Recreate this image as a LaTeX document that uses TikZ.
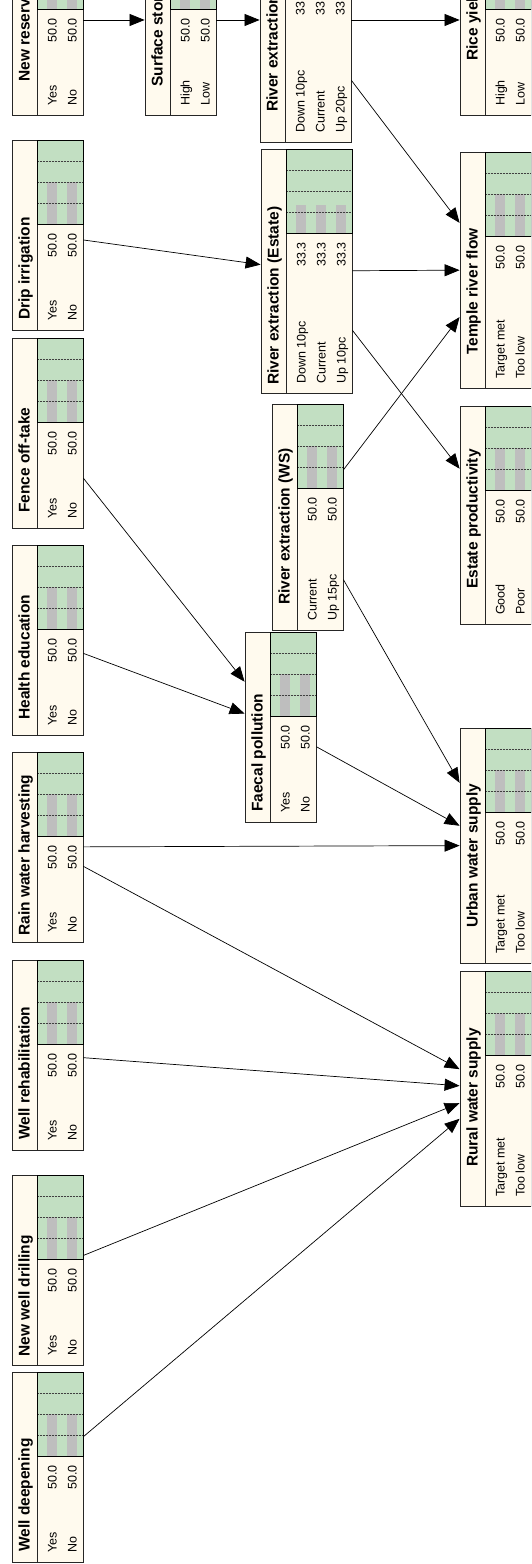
\documentclass[tikz,border=0pt]{standalone}
\usepackage{fontspec}
\setmainfont{Liberation Sans}
\usetikzlibrary{arrows.meta}

\definecolor{bgcream}{RGB}{255,250,238}
\definecolor{chartgreen}{RGB}{194,223,194}
\definecolor{bargray}{RGB}{190,190,190}

% belief node: [title indent], name, left, top, length, states, title, state/value list
\newcommand{\bnnode}[8][10]{%
  \pgfmathsetmacro{\bnh}{31+20*#6}%
  \pgfmathsetmacro{\bnr}{#3+#5}%
  \pgfmathsetmacro{\bnc}{#3+#5-84}%
  \node[bnbox, minimum width=#5pt, minimum height=\bnh pt] (#2) at ({#3+#5/2},{-#4-\bnh/2}) {};
  \draw[bnline] (#3,-#4-25) -- (\bnr,-#4-25);
  \node[bntitle] at (#3+#1,-#4-17.5) {#7};
  \fill[chartgreen] (\bnc,-#4-25) rectangle (\bnr,{-#4-\bnh});
  \foreach [count=\i] \st/\pc in {#8} {
    \fill[bargray] (\bnc,{-#4-15-20*\i}) rectangle ({\bnc+0.84*\pc},{-#4-25-20*\i});
    \node[bnstate] at (#3+9,{-#4-24.5-20*\i}) {\st};
    \node[bnvalue] at (\bnc-9,{-#4-24.5-20*\i}) {\pc};
  }
  \foreach \g in {21,42,63}
    \draw[bngrid] (\bnc+\g,-#4-26) -- (\bnc+\g,{-#4-\bnh+1});
  \draw[bnchart] (\bnc,-#4-25) rectangle (\bnr,{-#4-\bnh});
}

\begin{document}
\begin{tikzpicture}[
    x=1pt, y=1pt, rotate=90, transform shape,
    bnbox/.style={rectangle, draw=black!85, fill=bgcream, line width=0.8pt, inner sep=0pt},
    bnline/.style={draw=black!85, line width=0.8pt},
    bntitle/.style={anchor=base west, inner sep=0pt, font=\bfseries\fontsize{15.5}{15.5}\selectfont},
    bnstate/.style={anchor=base west, inner sep=0pt, font=\fontsize{12.5}{12.5}\selectfont},
    bnvalue/.style={anchor=base east, inner sep=0pt, font=\fontsize{12.5}{12.5}\selectfont},
    bnchart/.style={draw=black, line width=0.9pt},
    bngrid/.style={densely dotted, line width=0.5pt, black!75},
    link/.style={-{Triangle[length=15pt, width=12pt]}, line width=0.7pt}
]
\useasboundingbox (0,0) rectangle (1564,-531);
\clip (0,0) rectangle (1564,-531);

% decisions
\bnnode[10]{deep}{2}{12}{190}{2}{Well deepening}{Yes/50.0, No/50.0}
\bnnode[8]{drill}{199}{12}{190}{2}{New well drilling}{Yes/50.0, No/50.0}
\bnnode[10]{rehab}{414}{12}{190}{2}{Well rehabilitation}{Yes/50.0, No/50.0}
\bnnode[6]{rain}{622}{12}{190}{2}{Rain water harvesting}{Yes/50.0, No/50.0}
\bnnode[15]{health}{829}{12}{190}{2}{Health education}{Yes/50.0, No/50.0}
\bnnode[15]{fence}{1036}{12}{190}{2}{Fence off-take}{Yes/50.0, No/50.0}
\bnnode[10]{drip}{1234}{12}{190}{2}{Drip irrigation}{Yes/50.0, No/50.0}
\bnnode[33]{reservoir}{1449}{12}{190}{2}{New reservoir}{Yes/50.0, No/50.0}

% middle
\bnnode[28]{surface}{1449}{145}{190}{2}{Surface storage}{High/50.0, Low/50.0}
\bnnode[30]{rextop}{1422}{260}{244}{3}{River extraction}{Down 10pc/33.3, Current/33.3, Up 20pc/33.3}
\bnnode[8]{restate}{1171}{261}{244}{3}{River extraction (Estate)}{Down 10pc/33.3, Current/33.3, Up 10pc/33.3}
\bnnode[25]{rews}{934}{272}{226}{2}{River extraction (WS)}{Current/50.0, Up 15pc/50.0}
\bnnode[10]{faecal}{742}{245}{190}{2}{Faecal pollution}{Yes/50.0, No/50.0}

% outcomes
\bnnode[54]{rice}{1449}{460}{190}{2}{Rice yield}{High/50.0, Low/50.0}
\bnnode[33]{temple}{1176}{460}{236}{2}{Temple river flow}{Target met/50.0, Too low/50.0}
\bnnode[35]{estprod}{940}{460}{218}{2}{Estate productivity}{Good/50.0, Poor/50.0}
\bnnode[35]{urban}{601}{460}{235}{2}{Urban water supply}{Target met/50.0, Too low/50.0}
\bnnode[39]{rural}{358}{460}{235}{2}{Rural water supply}{Target met/50.0, Too low/50.0}

\draw[link] (reservoir) -- (surface);
\draw[link] (surface) -- (rextop);
\draw[link] (rextop) -- (rice);
\draw[link] (rextop) -- (temple);
\draw[link] (drip) -- (restate);
\draw[link] (restate) -- (temple);
\draw[link] (restate) -- (estprod);
\draw[link] (rews) -- (temple);
\draw[link] (rews) -- (urban);
\draw[link] (faecal) -- (urban);
\draw[link] (health) -- (faecal);
\draw[link] (fence) -- (faecal);
\draw[link] (rain) -- (urban);
\draw[link] (rain) -- (rural);
\draw[link] (rehab) -- (rural);
\draw[link] (drill) -- (rural);
\draw[link] (deep) -- (rural);

\end{tikzpicture}
\end{document}
